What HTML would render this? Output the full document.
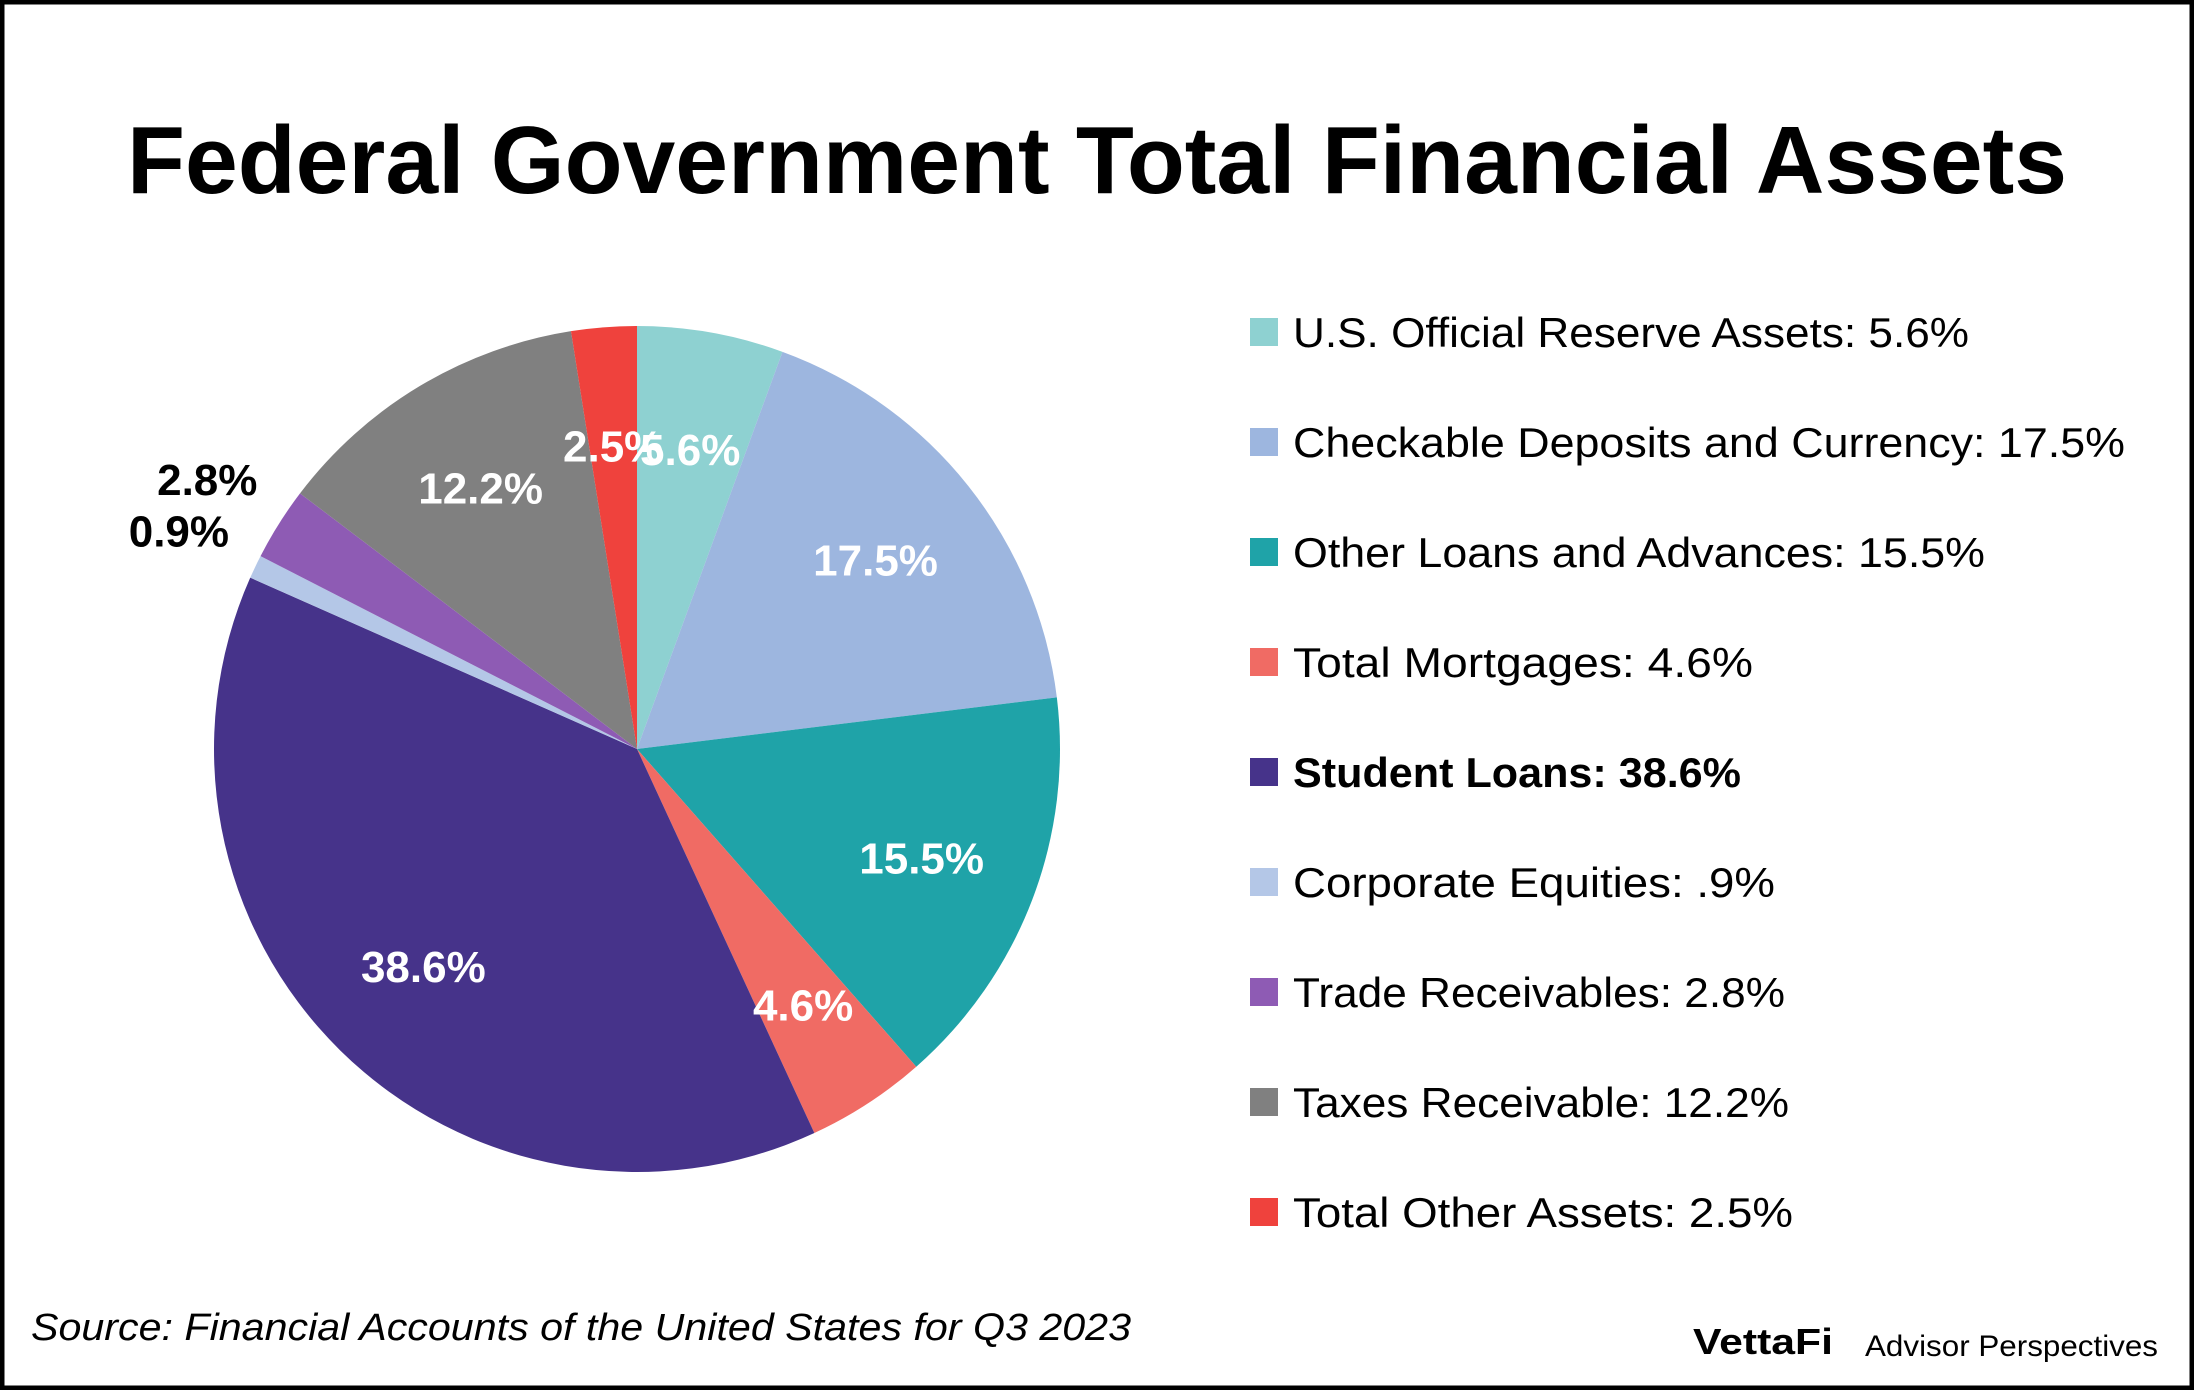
<!DOCTYPE html>
<html><head><meta charset="utf-8"><style>
html,body{margin:0;padding:0;background:#fff}
svg{display:block;font-family:"Liberation Sans",sans-serif}
</style></head><body>
<svg id="chart" width="2194" height="1390" viewBox="0 0 2194 1390" xmlns="http://www.w3.org/2000/svg">
<rect x="2" y="2" width="2190" height="1386" fill="#fff" stroke="#000" stroke-width="5"/>
<text x="1097" y="193" text-anchor="middle" font-size="96" font-weight="bold" textLength="1940" lengthAdjust="spacingAndGlyphs">Federal Government Total Financial Assets</text>
<g id="slices"></g>
<g id="labels"></g>
<g id="legend"></g>
<text x="31" y="1340" font-size="38" font-style="italic" textLength="1100" lengthAdjust="spacingAndGlyphs">Source: Financial Accounts of the United States for Q3 2023</text>
<text x="1693" y="1354" font-size="36" font-weight="bold" textLength="140" lengthAdjust="spacingAndGlyphs">VettaFi</text>
<text x="1865" y="1356" font-size="30" textLength="293" lengthAdjust="spacingAndGlyphs">Advisor Perspectives</text>
</svg>
<script>
const categories = ["U.S. Official Reserve Assets","Checkable Deposits and Currency","Other Loans and Advances","Total Mortgages","Student Loans","Corporate Equities","Trade Receivables","Taxes Receivable","Total Other Assets"];
const values = [5.6,17.5,15.5,4.6,38.6,0.9,2.8,12.2,2.5];
const valueLabels = ["5.6%","17.5%","15.5%","4.6%","38.6%","0.9%","2.8%","12.2%","2.5%"];
const legendValues = ["5.6%","17.5%","15.5%","4.6%","38.6%",".9%","2.8%","12.2%","2.5%"];
const colors = ["#8ed1d1","#9db6df","#1fa3a8","#f06b64","#46338a","#b4c7e7","#8e5bb4","#808080","#ef423d"];
const legendWidths = [676,832,692,460,448,482,492,496,500];

const NS="http://www.w3.org/2000/svg";
const cx=637, cy=749, R=423;
const total=values.reduce((a,b)=>a+b,0);
function angle(v){return v/total*2*Math.PI;}
function pt(a,r){return [cx+r*Math.sin(a), cy-r*Math.cos(a)];}
const gS=document.getElementById('slices'), gL=document.getElementById('labels'), gG=document.getElementById('legend');
let acc=0;
values.forEach((v,i)=>{
  const a0=angle(acc), a1=angle(acc+v); acc+=v;
  const p0=pt(a0,R), p1=pt(a1,R);
  const large=(a1-a0)>Math.PI?1:0;
  const path=document.createElementNS(NS,'path');
  path.setAttribute('d',`M${cx},${cy}L${p0[0]},${p0[1]}A${R},${R} 0 ${large} 1 ${p1[0]},${p1[1]}Z`);
  path.setAttribute('fill',colors[i]);
  
  
  gS.appendChild(path);
  const mid=(a0+a1)/2;
  const outside=v<3 && i!==8;
  const lp=pt(mid, outside?R*1.2:R*0.72);
  const t=document.createElementNS(NS,'text');
  t.setAttribute('x',lp[0]); t.setAttribute('y',lp[1]+16);
  t.setAttribute('text-anchor','middle');
  t.setAttribute('font-size','44'); t.setAttribute('font-weight','bold');
  t.setAttribute('fill',outside?'#000':'#fff');
  t.textContent=valueLabels[i];
  
  
  gL.appendChild(t);
  const y=332+110*i;
  const sq=document.createElementNS(NS,'rect');
  sq.setAttribute('x',1250); sq.setAttribute('y',y-14); sq.setAttribute('width',28); sq.setAttribute('height',28);
  sq.setAttribute('fill',colors[i]);
  
  
  gG.appendChild(sq);
  const lt=document.createElementNS(NS,'text');
  lt.setAttribute('x',1293); lt.setAttribute('y',y+15);
  lt.setAttribute('font-size','42');
  if(i===4) lt.setAttribute('font-weight','bold');
  lt.setAttribute('textLength',legendWidths[i]); lt.setAttribute('lengthAdjust','spacingAndGlyphs');
  lt.textContent=categories[i]+": "+legendValues[i];
  
  
  gG.appendChild(lt);
});
</script>
</body></html>
